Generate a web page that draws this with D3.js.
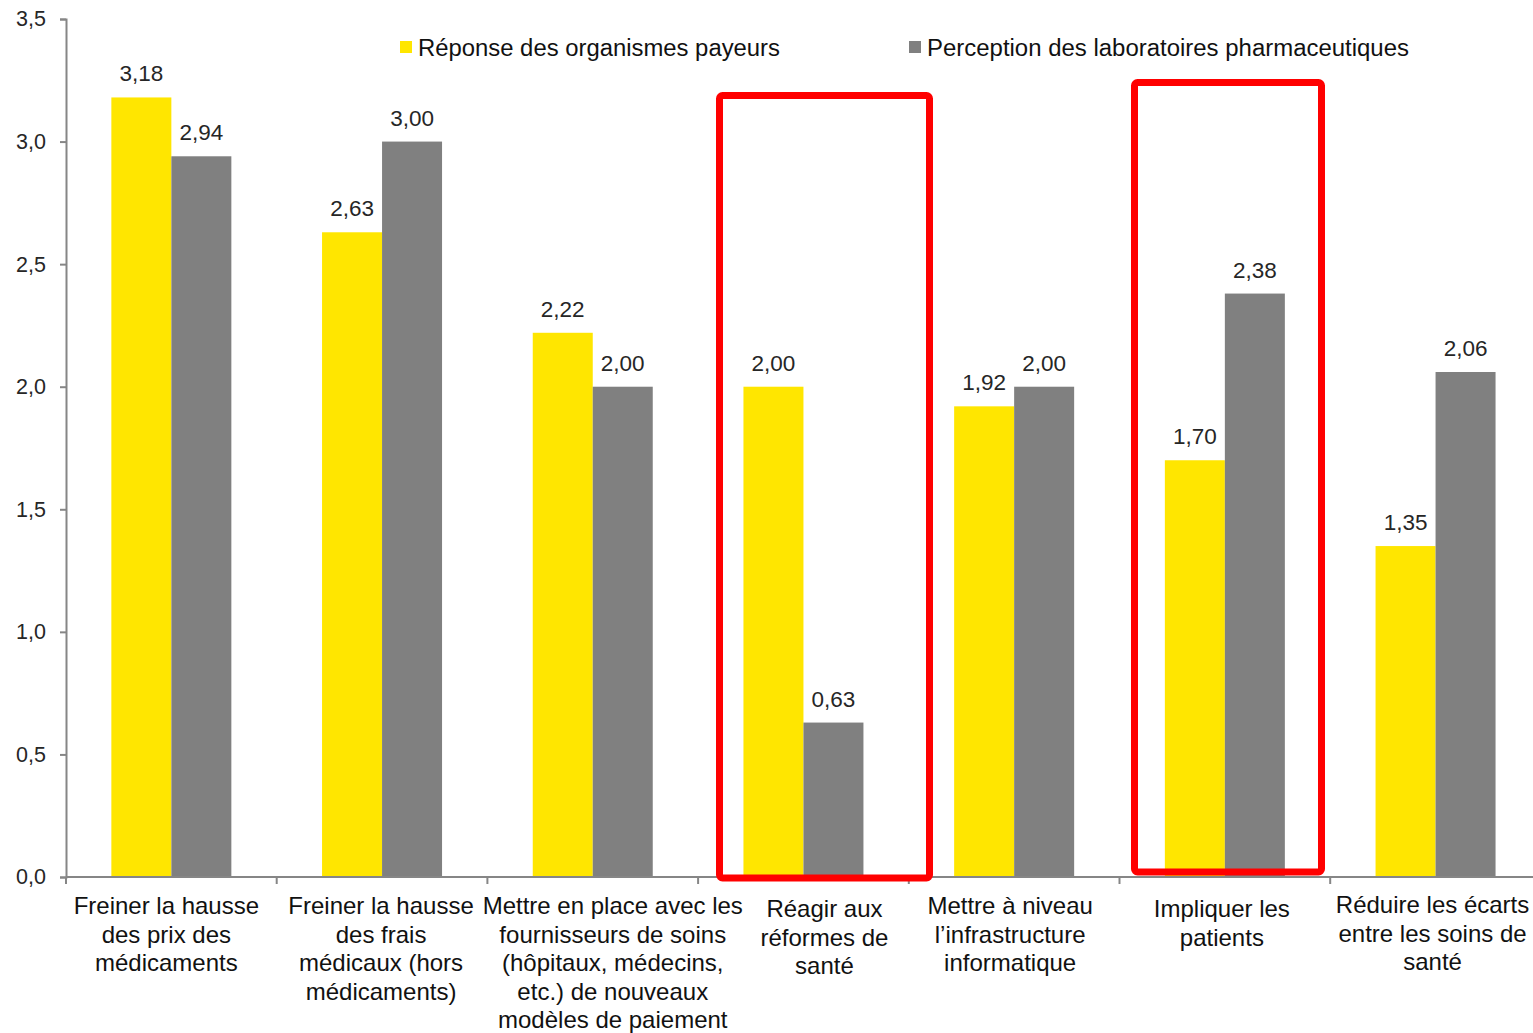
<!DOCTYPE html>
<html><head><meta charset="utf-8">
<script src="https://cdn.jsdelivr.net/npm/d3@7"></script>
<style>
html,body{margin:0;padding:0;background:#fff;}
svg{display:block;font-family:"Liberation Sans",Arial,sans-serif;}
</style></head>
<body>
<svg id="chart" width="1533" height="1033"></svg>
<script>
const categories = [
  ["Freiner la hausse","des prix des","médicaments"],
  ["Freiner la hausse","des frais","médicaux (hors","médicaments)"],
  ["Mettre en place avec les","fournisseurs de soins","(hôpitaux, médecins,","etc.) de nouveaux","modèles de paiement"],
  ["Réagir aux","réformes de","santé"],
  ["Mettre à niveau","l’infrastructure","informatique"],
  ["Impliquer les","patients"],
  ["Réduire les écarts","entre les soins de","santé"]
];
const seriesNames = ["Réponse des organismes payeurs","Perception des laboratoires pharmaceutiques"];
const payeurs = [3.18, 2.63, 2.22, 2.00, 1.92, 1.70, 1.35];
const laboratoires = [2.94, 3.00, 2.00, 0.63, 2.00, 2.38, 2.06];
const yTicks = [0, 0.5, 1.0, 1.5, 2.0, 2.5, 3.0, 3.5];
const highlighted = [3, 5];

const colors = ["#FFE600", "#808080"];
const svg = d3.select("#chart");
const fmt = v => d3.format(".2f")(v).replace(".", ",");
const fmtTick = v => d3.format(".1f")(v).replace(".", ",");

const x = d3.scaleBand().domain(d3.range(categories.length)).range([66, 66 + 7 * 210.7]).paddingInner(0).paddingOuter(0);
const xs = d3.scaleBand().domain([0, 1]).range([x.bandwidth()/2 - 60, x.bandwidth()/2 + 60]);
const y = d3.scaleLinear().domain([0, 3.5]).range([877, 19]);

const data = categories.map((c, i) => ({i, vals: [payeurs[i], laboratoires[i]]}));

// bars
const g = svg.append("g");
const groups = g.selectAll("g.cat").data(data).join("g").attr("class","cat")
  .attr("transform", d => `translate(${x(d.i)},0)`);
groups.selectAll("rect").data(d => d.vals.map((v, s) => ({v, s}))).join("rect")
  .attr("x", d => xs(d.s)).attr("width", xs.bandwidth())
  .attr("y", d => y(d.v)).attr("height", d => y(0) - y(d.v))
  .attr("fill", d => colors[d.s]);
groups.selectAll("text.val").data(d => d.vals.map((v, s) => ({v, s}))).join("text").attr("class","val")
  .attr("x", d => xs(d.s) + xs.bandwidth()/2).attr("y", d => y(d.v) - 16)
  .attr("text-anchor","middle").attr("font-size", 22.5).attr("fill","#262626")
  .text(d => fmt(d.v));

// y axis
const yAxis = d3.axisLeft(y).tickValues(yTicks).tickFormat(fmtTick).tickSize(6).tickPadding(14);
const ya = svg.append("g").attr("transform","translate(66,0)").call(yAxis);
ya.select(".domain").attr("stroke","#868686").attr("stroke-width",2);
ya.selectAll(".tick line").attr("stroke","#868686").attr("stroke-width",2);
ya.selectAll(".tick text").attr("font-size",21.5).attr("fill","#262626").attr("font-family","Liberation Sans, Arial, sans-serif");

// x axis line with boundary ticks
const xa = svg.append("g");
xa.append("line").attr("x1",66).attr("x2",1533).attr("y1",y(0)).attr("y2",y(0)).attr("stroke","#868686").attr("stroke-width",2);
xa.selectAll("line.tk").data(d3.range(categories.length)).join("line").attr("class","tk")
  .attr("x1", i => x(i)).attr("x2", i => x(i)).attr("y1", y(0)).attr("y2", y(0) + 7)
  .attr("stroke","#868686").attr("stroke-width",2);

// category labels
const labelShift = [-5, -1, 20, 21, -4, -3, -3];
const labelTop = [914, 914, 914, 917, 914, 917, 913];
const labs = svg.append("g").selectAll("text").data(categories).join("text")
  .attr("text-anchor","middle").attr("font-size",24).attr("fill","#111")
  .attr("transform", (d, i) => `translate(${x(i) + x.bandwidth()/2 + labelShift[i]},${labelTop[i]})`);
labs.selectAll("tspan").data(d => d).join("tspan").attr("x",0).attr("dy",(d, j) => j === 0 ? 0 : 28.6).text(d => d);

// legend
const legendX = [400, 909];
const legendW = [362, 482];
const lg = svg.append("g").selectAll("g").data(seriesNames).join("g")
  .attr("transform", (d, i) => `translate(${legendX[i]},41)`);
lg.append("rect").attr("width",12).attr("height",12).attr("fill",(d,i)=>colors[i]);
lg.append("text").attr("x",18).attr("y",15).attr("font-size",23).attr("fill","#111")
  .attr("textLength",(d,i)=>legendW[i]).attr("lengthAdjust","spacingAndGlyphs").text(d => d);

// highlight boxes
const boxes = [{i:3, top:95.5, bottom:878, l:719.5, r:929.5}, {i:5, top:82.5, bottom:872, l:1134.5, r:1321.5}];
svg.append("g").selectAll("rect").data(boxes).join("rect")
  .attr("x", d => d.l).attr("y", d => d.top).attr("width", d => d.r - d.l).attr("height", d => d.bottom - d.top)
  .attr("rx",3).attr("fill","none").attr("stroke","#FF0000").attr("stroke-width",7);
</script>
</body></html>
